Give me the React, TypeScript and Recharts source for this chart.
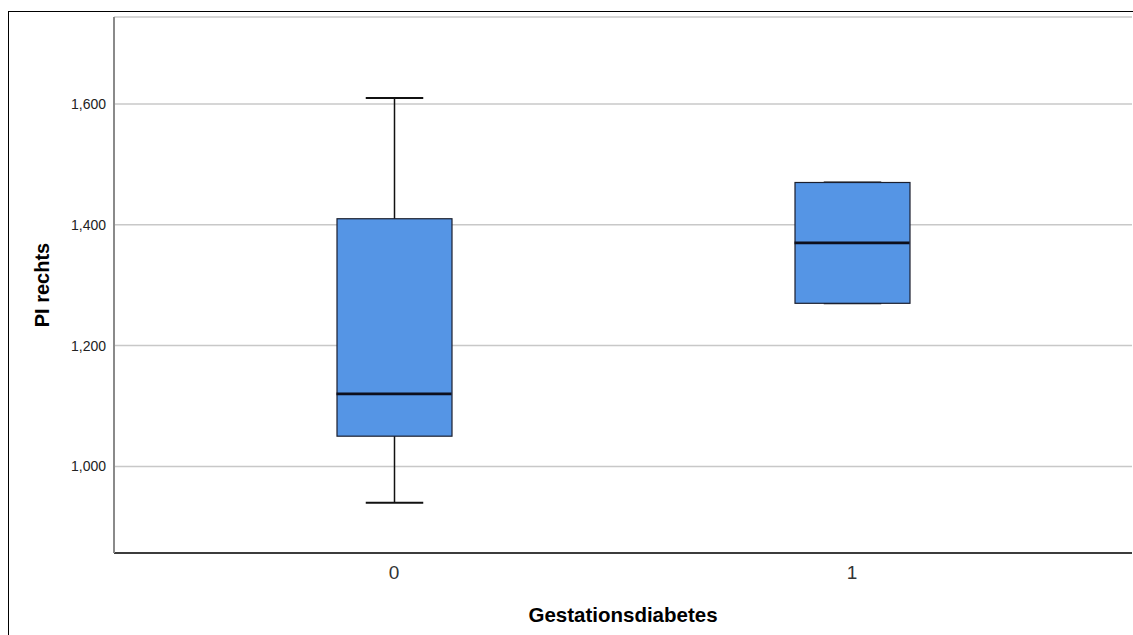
import { ComposedChart, Bar, Line, XAxis, YAxis, CartesianGrid, Label } from "recharts";

// boxplot stats per group
const groups = ["0", "1"];
const whiskerLow = [0.94, 1.27];
const q1 = [1.05, 1.27];
const median = [1.12, 1.37];
const q3 = [1.41, 1.47];
const whiskerHigh = [1.61, 1.47];
const yTicks = [1.0, 1.2, 1.4, 1.6];

const data = groups.map((g, i) => ({
  group: g,
  whisker: [whiskerLow[i], whiskerHigh[i]],
  box: [q1[i], q3[i]],
  median: median[i],
}));

const FONT = '"Liberation Sans", Arial, sans-serif';
const BOX_W = 115;

const WhiskerShape = (props: any) => {
  const { x, y, width, height } = props;
  const top = Math.min(y, y + height);
  const bottom = Math.max(y, y + height);
  const cx = x + width / 2;
  const cap = width / 4;
  return (
    <g>
      <line x1={cx} x2={cx} y1={top} y2={bottom} stroke="#111" strokeWidth={1.5} />
      <line x1={cx - cap} x2={cx + cap} y1={top} y2={top} stroke="#111" strokeWidth={2} />
      <line x1={cx - cap} x2={cx + cap} y1={bottom} y2={bottom} stroke="#111" strokeWidth={2} />
    </g>
  );
};

const BoxShape = (props: any) => {
  const { x, y, width, height } = props;
  return (
    <rect
      x={x}
      y={Math.min(y, y + height)}
      width={width}
      height={Math.abs(height)}
      fill="#5595e5"
      stroke="#1b1f2e"
      strokeWidth={1.2}
    />
  );
};

const MedianDot = (props: any) => {
  const { cx, cy, index } = props;
  if (cx == null || cy == null) return <g key={index} />;
  return (
    <line
      key={index}
      x1={cx - BOX_W / 2}
      x2={cx + BOX_W / 2}
      y1={cy}
      y2={cy}
      stroke="#0d0f1c"
      strokeWidth={2.6}
    />
  );
};

const fmt = (v: number) => v.toFixed(3).replace(".", ",");

export default function App() {
  return (
    <div
      style={{
        position: "fixed",
        left: 0,
        top: 0,
        width: 1133,
        height: 635,
        overflow: "hidden",
        background: "#fff",
        fontFamily: FONT,
      }}
    >
      <div
        style={{
          position: "absolute",
          left: 8,
          top: 11,
          width: 1200,
          height: 700,
          borderTop: "1.5px solid #000",
          borderLeft: "1.5px solid #000",
        }}
      />
      <div style={{ position: "absolute", left: 0, top: 0 }}>
        <ComposedChart
          width={1133}
          height={635}
          data={data}
          margin={{ top: 17, right: 1, bottom: 0, left: 0 }}
        >
          <CartesianGrid vertical={false} stroke="#c8c8c8" strokeWidth={1.5} />
          <XAxis
            xAxisId="a"
            dataKey="group"
            height={82}
            padding={{ left: 51, right: 51 }}
            axisLine={{ stroke: "#3c3c3c", strokeWidth: 2 }}
            tickLine={false}
            tickMargin={7}
            tick={{ fontSize: 19, fill: "#333", fontFamily: FONT }}
          >
            <Label
              value="Gestationsdiabetes"
              position="insideBottom"
              offset={13}
              style={{ fontSize: 20.5, fontWeight: "bold", fill: "#000", fontFamily: FONT }}
            />
          </XAxis>
          <XAxis xAxisId="b" dataKey="group" hide padding={{ left: 51, right: 51 }} />
          <YAxis
            width={114}
            type="number"
            domain={[0.8566, 1.744]}
            allowDataOverflow
            ticks={yTicks}
            tickFormatter={fmt}
            axisLine={{ stroke: "#8a8a8a", strokeWidth: 2 }}
            tickLine={false}
            tick={{ fontSize: 14, fill: "#222", fontFamily: FONT }}
          >
            <Label
              content={({ viewBox }: any) => {
                const cx = viewBox.x + 42;
                const cy = viewBox.y + viewBox.height / 2;
                return (
                  <text
                    x={cx}
                    y={cy}
                    transform={`rotate(-90, ${cx}, ${cy})`}
                    textAnchor="middle"
                    dominantBaseline="central"
                    style={{ fontSize: 20, fontWeight: "bold", fill: "#000", fontFamily: FONT }}
                  >
                    PI rechts
                  </text>
                );
              }}
            />
          </YAxis>
          <Bar
            xAxisId="b"
            dataKey="whisker"
            barSize={BOX_W}
            shape={WhiskerShape}
            isAnimationActive={false}
          />
          <Bar
            xAxisId="a"
            dataKey="box"
            barSize={BOX_W}
            shape={BoxShape}
            isAnimationActive={false}
          />
          <Line
            xAxisId="a"
            dataKey="median"
            stroke="none"
            dot={MedianDot}
            activeDot={false}
            isAnimationActive={false}
          />
        </ComposedChart>
      </div>
    </div>
  );
}
